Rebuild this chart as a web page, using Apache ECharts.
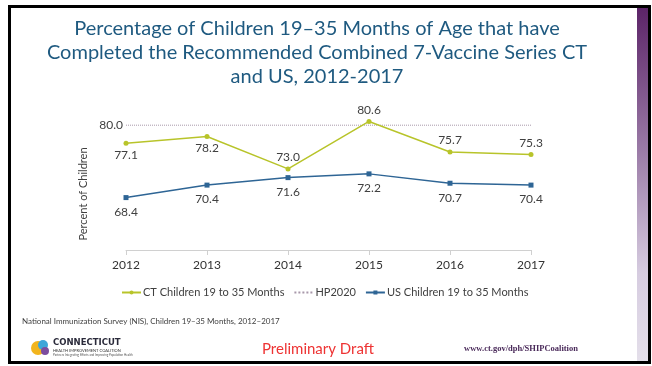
<!DOCTYPE html>
<html>
<head>
<meta charset="utf-8">
<script src="https://cdn.jsdelivr.net/npm/echarts@6/dist/echarts.min.js"></script>
<style>
  html, body { margin: 0; padding: 0; background: #fff; }
  #main { width: 652px; height: 366px; }
</style>
</head>
<body>
<div id="main"></div>
<script>
// data
const years = ['2012', '2013', '2014', '2015', '2016', '2017'];
const ctValues = [77.1, 78.2, 73.0, 80.6, 75.7, 75.3];
const usValues = [68.4, 70.4, 71.6, 72.2, 70.7, 70.4];
const hpTarget = [80.0, 80.0, 80.0, 80.0, 80.0, 80.0];
// label above / below for CT points
const ctLabelPos = ['bottom', 'bottom', 'top', 'top', 'top', 'top'];

const font = 'Lato, "Open Sans", sans-serif';
const chart = echarts.init(document.getElementById('main'));

const option = {
  backgroundColor: '#fff',
  textStyle: { fontFamily: font },
  title: {
    text: 'Percentage of Children 19\u201335 Months of Age that have\nCompleted the Recommended Combined 7-Vaccine Series CT\nand US, 2012-2017',
    left: 312,
    top: 12,
    textAlign: 'center',
    textStyle: {
      fontFamily: font,
      fontSize: 20,
      fontWeight: 'normal',
      color: '#1f5a80',
      lineHeight: 24
    }
  },
  legend: {
    top: 282,
    left: 116,
    itemWidth: 19,
    itemHeight: 5,
    itemGap: 9,
    textStyle: { fontSize: 11, color: '#404040', fontFamily: font, padding: [0, 0, 0, -3] },
    data: [
      'CT Children 19 to 35 Months',
      { name: 'HP2020', itemStyle: { opacity: 0 } },
      'US Children 19 to 35 Months'
    ]
  },
  grid: { left: 126, right: 121, top: 94, bottom: 116 },
  xAxis: {
    type: 'category',
    data: years,
    boundaryGap: false,
    axisLine: { lineStyle: { color: '#d0d0d0' } },
    axisTick: { show: true, length: 5, lineStyle: { color: '#d0d0d0' } },
    axisLabel: { color: '#333', fontSize: 12, margin: 9 }
  },
  yAxis: {
    type: 'value',
    min: 60,
    max: 85,
    show: false
  },
  series: [
    {
      name: 'CT Children 19 to 35 Months',
      type: 'line',
      data: ctValues.map((v, i) => ({ value: v, label: { position: ctLabelPos[i] } })),
      color: '#b8c42a',
      symbol: 'circle',
      symbolSize: 5,
      lineStyle: { width: 1.5 },
      label: {
        show: true,
        fontSize: 12,
        color: '#404040',
        distance: 3,
        formatter: p => p.value.toFixed(1)
      },
      z: 3
    },
    {
      name: 'HP2020',
      type: 'line',
      data: hpTarget,
      color: '#a898aa',
      symbol: 'none',
      lineStyle: { width: 1, type: 'dotted' },
      markPoint: {
        symbol: 'circle',
        symbolSize: 0,
        data: [{ coord: [years[0], hpTarget[0]], value: hpTarget[0] }],
        label: {
          show: true,
          position: 'left',
          distance: 3,
          fontSize: 12,
          color: '#404040',
          formatter: p => p.value.toFixed(1)
        }
      },
      z: 1
    },
    {
      name: 'US Children 19 to 35 Months',
      type: 'line',
      data: usValues,
      color: '#2e6595',
      symbol: 'rect',
      symbolSize: 5,
      lineStyle: { width: 1.5 },
      label: {
        show: true,
        position: 'bottom',
        fontSize: 12,
        color: '#404040',
        distance: 6,
        formatter: p => p.value.toFixed(1)
      },
      z: 2
    }
  ],
  graphic: [
    // slide frame
    {
      type: 'rect', z: 100, silent: true,
      shape: { x: 9.5, y: 6.5, width: 640, height: 356 },
      style: { fill: null, stroke: '#000', lineWidth: 3 }
    },
    // purple strip on the right
    {
      type: 'rect', z: 99, silent: true,
      shape: { x: 637, y: 8, width: 11, height: 353 },
      style: {
        fill: new echarts.graphic.LinearGradient(0, 0, 0, 1, [
          { offset: 0, color: '#5c2468' },
          { offset: 0.4, color: '#9a7aa6' },
          { offset: 0.75, color: '#d6cce0' },
          { offset: 1, color: '#e4dfea' }
        ])
      }
    },
    // y axis name
    {
      type: 'text', z: 10, silent: true,
      x: 83, y: 194, rotation: Math.PI / 2,
      style: {
        text: 'Percent of Children', fontSize: 11, fill: '#404040',
        fontFamily: font, align: 'center', verticalAlign: 'middle'
      }
    },
    // source note
    {
      type: 'text', z: 10, silent: true,
      x: 22, y: 321,
      style: {
        text: 'National Immunization Survey (NIS), Children 19\u201335 Months, 2012\u20132017',
        fontSize: 8, fill: '#404040', fontFamily: font, verticalAlign: 'middle'
      }
    },
    // footer
    {
      type: 'text', z: 10, silent: true,
      x: 318, y: 349,
      style: {
        text: 'Preliminary Draft', fontSize: 15, fill: '#ee3333',
        fontFamily: font, align: 'center', verticalAlign: 'middle'
      }
    },
    {
      type: 'text', z: 10, silent: true,
      x: 521, y: 349,
      style: {
        text: 'www.ct.gov/dph/SHIPCoalition', fontSize: 8.5, fontWeight: 'bold',
        fill: '#4a2a5a', fontFamily: '"Liberation Serif", serif',
        align: 'center', verticalAlign: 'middle'
      }
    },
    // logo
    { type: 'circle', z: 10, silent: true, shape: { cx: 38, cy: 348, r: 7 }, style: { fill: '#f2b51d' } },
    { type: 'circle', z: 11, silent: true, shape: { cx: 43, cy: 345, r: 5 }, style: { fill: '#3ea6d8' } },
    { type: 'circle', z: 12, silent: true, shape: { cx: 45, cy: 351, r: 4 }, style: { fill: '#7c4d9e' } },
    {
      type: 'text', z: 10, silent: true,
      x: 53, y: 343,
      style: {
        text: 'CONNECTICUT', fontSize: 8.5, fontWeight: 'bold', fill: '#2a2a3a',
        fontFamily: '"DejaVu Sans", sans-serif', verticalAlign: 'middle'
      }
    },
    {
      type: 'text', z: 10, silent: true,
      x: 53, y: 351,
      style: {
        text: 'HEALTH IMPROVEMENT COALITION', fontSize: 4, fill: '#333',
        fontFamily: font, verticalAlign: 'middle'
      }
    },
    {
      type: 'text', z: 10, silent: true,
      x: 53, y: 355,
      style: {
        text: 'Partners Integrating Efforts and Improving Population Health', fontSize: 3, fill: '#555',
        fontFamily: font, verticalAlign: 'middle'
      }
    }
  ]
};

chart.setOption(option);
</script>
</body>
</html>
